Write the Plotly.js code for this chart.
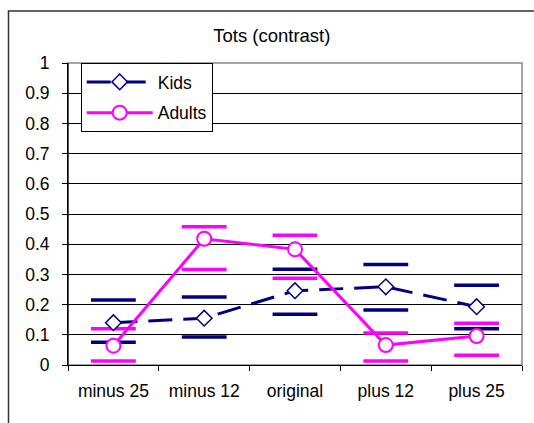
<!DOCTYPE html>
<html>
<head>
<meta charset="utf-8">
<script src="https://cdn.plot.ly/plotly-3.0.1.min.js"></script>
<style>
html,body{margin:0;padding:0;background:#fff;}
#chart{width:534px;height:423px;}
</style>
</head>
<body>
<div id="chart"></div>
<script>
const categories = ["minus 25", "minus 12", "original", "plus 12", "plus 25"];
const kids = [0.14, 0.155, 0.246, 0.259, 0.193];
const kidsUpper = [0.215, 0.225, 0.317, 0.333, 0.264];
const kidsLower = [0.075, 0.093, 0.168, 0.182, 0.12];
const adults = [0.064, 0.418, 0.383, 0.066, 0.096];
const adultsUpper = [0.12, 0.458, 0.43, 0.106, 0.138];
const adultsLower = [0.013, 0.316, 0.287, 0.013, 0.032];
const yTicks = [0, 0.1, 0.2, 0.3, 0.4, 0.5, 0.6, 0.7, 0.8, 0.9, 1];
const yTickText = ["0", "0.1", "0.2", "0.3", "0.4", "0.5", "0.6", "0.7", "0.8", "0.9", "1"];

const NAVY = "#000080", MAG = "#FF00FF";
const FONT = "Liberation Sans, Arial, sans-serif";
function caps(vals, color) {
  return {
    x: categories, y: vals, type: "scatter", mode: "markers", showlegend: false,
    hoverinfo: "skip",
    marker: {symbol: "line-ew", size: 32, color: color, line: {color: color, width: 3.5}}
  };
}
const traces = [
  caps(kidsUpper, NAVY), caps(kidsLower, NAVY),
  caps(adultsUpper, MAG), caps(adultsLower, MAG),
  {
    x: categories, y: kids, name: "Kids", type: "scatter", mode: "lines+markers",
    legendgroup: "k",
    line: {color: NAVY, width: 3, dash: "24px,11px"},
    marker: {symbol: "diamond", size: 12, color: "#fff", line: {color: NAVY, width: 1.5}}
  },
  {
    x: categories, y: adults, name: "Adults", type: "scatter", mode: "lines+markers",
    legendgroup: "a",
    line: {color: MAG, width: 3},
    marker: {symbol: "circle", size: 14, color: "#fff", line: {color: MAG, width: 2}}
  }
];
const layout = {
  width: 534, height: 423,
  margin: {l: 68, r: 12, t: 63, b: 58, pad: 0},
  paper_bgcolor: "#fff", plot_bgcolor: "#fff",
  font: {family: FONT, size: 17.5, color: "#000"},
  title: {text: "Tots (contrast)", x: 0.509, xanchor: "center", y: 0.915, yanchor: "middle",
          font: {family: FONT, size: 18.5, color: "#000"}},
  xaxis: {
    type: "category", tickson: "boundaries", ticks: "outside", ticklen: 5, tickcolor: "#000",
    showline: true, linecolor: "#000", linewidth: 1, showgrid: false, zeroline: false,
    range: [-0.5, 4.5], fixedrange: true, ticklabelstandoff: 10,
    tickfont: {size: 17.5}
  },
  yaxis: {
    range: [0, 1], tickvals: yTicks, ticktext: yTickText, ticks: "outside", ticklen: 5,
    tickcolor: "#000", showline: true, linecolor: "#000", linewidth: 1,
    showgrid: true, gridcolor: "#000", gridwidth: 1, zeroline: false, fixedrange: true,
    ticklabelstandoff: 9,
    tickfont: {size: 17.5}
  },
  legend: {
    x: 0.028, y: 1.0, xanchor: "left", yanchor: "top",
    bgcolor: "#fff", bordercolor: "#000", borderwidth: 1,
    font: {size: 17.5}, tracegroupgap: 5, itemwidth: 66
  },
  shapes: [
    {type: "rect", xref: "paper", yref: "paper", x0: 0, x1: 1, y0: 0, y1: 1,
     line: {color: "#888", width: 1.5}, layer: "below"},
    {type: "line", xref: "paper", yref: "paper", x0: 0, x1: 0, y0: 0, y1: 1,
     line: {color: "#000", width: 1}},
    {type: "rect", xref: "paper", yref: "paper",
     x0: (8.5 - 68) / 454, x1: (545 - 68) / 454, y0: (365 - 440) / 302, y1: (365 - 11) / 302,
     line: {color: "#333", width: 1.5}}
  ]
};
Plotly.newPlot("chart", traces, layout, {displayModeBar: false, staticPlot: true});
</script>
</body>
</html>
